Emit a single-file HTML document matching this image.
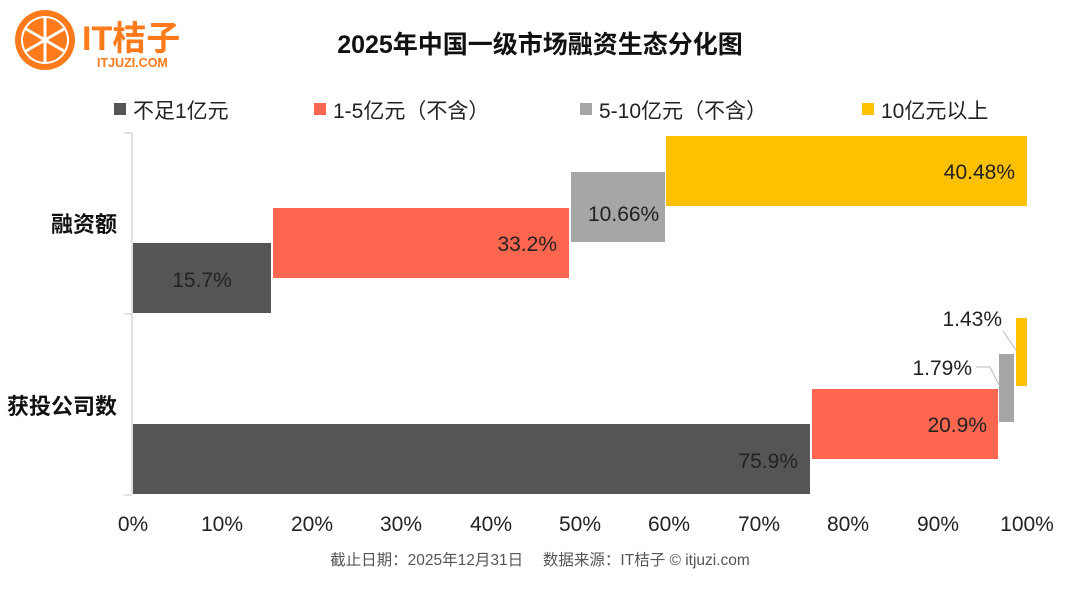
<!DOCTYPE html>
<html><head><meta charset="utf-8"><style>
html,body{margin:0;padding:0;background:#fff;}
svg{display:block;font-family:"Liberation Sans","Noto Sans CJK SC",sans-serif;}
</style></head><body>
<svg width="1080" height="592" viewBox="0 0 1080 592">
<rect width="1080" height="592" fill="#fff"/>
<!-- logo -->
<circle cx="45" cy="40" r="30" fill="#FF7A1A"/>
<circle cx="45" cy="40" r="24" fill="#fff"/>
<circle cx="45" cy="40" r="22" fill="#FF7A1A"/>
<g stroke="#fff" stroke-width="3">
<line x1="45" y1="18" x2="45" y2="62"/>
<line x1="26" y1="29" x2="64" y2="51"/>
<line x1="26" y1="51" x2="64" y2="29"/>
</g>
<text x="82" y="50" font-size="34" fill="#FF7A1A" font-weight="bold">IT桔子</text>
<text x="97" y="67" font-size="12.5" fill="#FF7A1A" font-weight="bold">ITJUZI.COM</text>
<!-- title -->
<text x="540" y="53" font-size="25" font-weight="bold" text-anchor="middle" fill="#111">2025年中国一级市场融资生态分化图</text>
<!-- legend -->
<g font-size="21" fill="#222">
<rect x="114" y="103" width="12" height="12" fill="#555"/><text x="133" y="118">不足1亿元</text>
<rect x="314" y="103" width="12" height="12" fill="#FF6650"/><text x="333" y="118">1-5亿元（不含）</text>
<rect x="580" y="103" width="12" height="12" fill="#A6A6A6"/><text x="599" y="118">5-10亿元（不含）</text>
<rect x="862" y="103" width="12" height="12" fill="#FFC000"/><text x="881" y="118">10亿元以上</text>
</g>
<!-- axis -->
<g stroke="#d9d9d9" stroke-width="1.5">
<line x1="132" y1="133" x2="132" y2="495"/>
<line x1="124" y1="314" x2="132" y2="314"/>
<line x1="124" y1="495" x2="132" y2="495"/>
<line x1="124" y1="133" x2="132" y2="133"/>
</g>
<!-- bars top -->
<rect x="133" y="243" width="138" height="70" fill="#555"/>
<rect x="273" y="208" width="296" height="70" fill="#FF6650"/>
<rect x="571" y="172" width="94" height="70" fill="#A6A6A6"/>
<rect x="666" y="136" width="361" height="70" fill="#FFC000"/>
<!-- bars bottom -->
<rect x="133" y="424" width="677" height="70" fill="#555"/>
<rect x="812" y="389" width="186" height="70" fill="#FF6650"/>
<rect x="999" y="354" width="15" height="68" fill="#A6A6A6"/>
<rect x="1016" y="318" width="11" height="68" fill="#FFC000"/>
<!-- leaders -->
<polyline points="976,367 990,367 999,385" fill="none" stroke="#bbb" stroke-width="1"/>
<polyline points="1003,331 1016,350" fill="none" stroke="#bbb" stroke-width="1"/>
<!-- value labels -->
<g font-size="21" fill="#222">
<text x="202" y="287" text-anchor="middle">15.7%</text>
<text x="557" y="251" text-anchor="end">33.2%</text>
<text x="588" y="221">10.66%</text>
<text x="1015" y="179" text-anchor="end">40.48%</text>
<text x="798" y="468" text-anchor="end">75.9%</text>
<text x="987" y="432" text-anchor="end">20.9%</text>
<text x="972" y="375" text-anchor="end">1.79%</text>
<text x="1002" y="326" text-anchor="end">1.43%</text>
</g>
<!-- category labels -->
<g font-size="22" font-weight="bold" fill="#111" text-anchor="end">
<text x="117" y="232">融资额</text>
<text x="117" y="414">获投公司数</text>
</g>
<!-- x ticks -->
<g font-size="21" fill="#222" text-anchor="middle">
<text x="133" y="531">0%</text>
<text x="222" y="531">10%</text>
<text x="312" y="531">20%</text>
<text x="401" y="531">30%</text>
<text x="491" y="531">40%</text>
<text x="580" y="531">50%</text>
<text x="669" y="531">60%</text>
<text x="759" y="531">70%</text>
<text x="848" y="531">80%</text>
<text x="938" y="531">90%</text>
<text x="1027" y="531">100%</text>
</g>
<text x="540" y="565" font-size="15.5" fill="#555" text-anchor="middle">截止日期：2025年12月31日　 数据来源：IT桔子 © itjuzi.com</text>
</svg>
</body></html>
